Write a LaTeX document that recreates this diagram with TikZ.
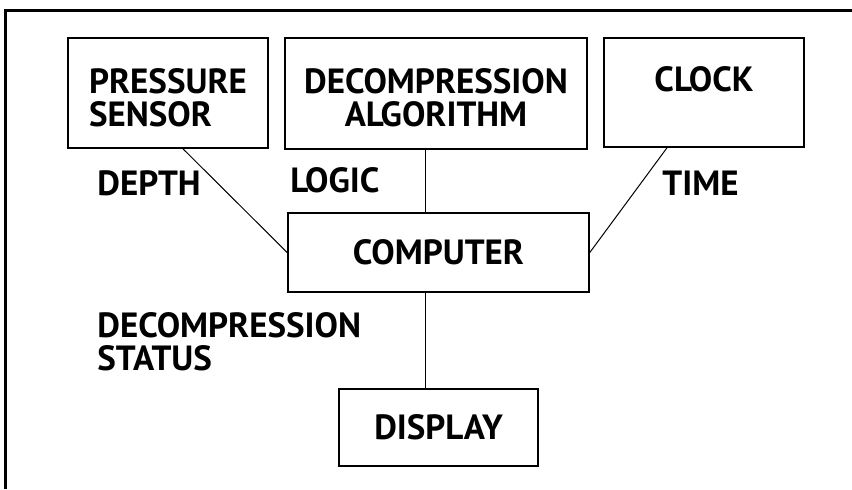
\documentclass[tikz,border=0pt]{standalone}
\usepackage{fontspec}
\setmainfont{PT Sans}
\usetikzlibrary{positioning}

\begin{document}
\begin{tikzpicture}[x=0.5pt, y=-0.5pt,
    every node/.style={font=\fontsize{17.5}{16.5}\selectfont\bfseries},
    box/.style={draw, line width=0.8pt, inner sep=0pt},
    toptext/.style={text height=33pt, text depth=0pt},
    tag/.style={inner sep=0pt, anchor=west}]
    \useasboundingbox (0, 0) rectangle (852, 489);
    \draw [line width=1.5pt] (5, 489) -- (5, 10) -- (852, 10);

    \node [box, toptext, align=left, minimum width=100pt, minimum height=55pt] (sensor) at (168, 93) {PRESSURE\\SENSOR};
    \node [box, toptext, align=center, minimum width=151pt, minimum height=55.5pt] (algo) at (436, 93.5) {DECOMPRESSION\\ALGORITHM};
    \node [box, text height=12pt, text depth=13pt, minimum width=100pt, minimum height=54.5pt] (clock) at (704, 92.5) {CLOCK};
    \node [box, minimum width=150.5pt, minimum height=39.5pt] (computer) at (438.5, 252.5) {COMPUTER};
    \node [box, minimum width=99.5pt, minimum height=38.5pt] (display) at (438.5, 427.5) {DISPLAY};

    \node [tag] (depth) at (97, 183) {DEPTH};
    \node [tag] (logic) at (290, 180) {LOGIC};
    \node [tag] (time) at (662, 183) {TIME};
    \node [tag, anchor=north west, align=left] (status) at (97, 312) {DECOMPRESSION\\STATUS};

    \coordinate (stem) at (425, 0);
    \draw [line width=0.5pt] ([xshift=7.5pt]sensor.south) -- (computer.west);
    \draw [line width=0.5pt] ([xshift=-18.5pt]clock.south) -- (computer.east);
    \draw [line width=0.5pt] (algo.south -| stem) -- (computer.north -| stem);
    \draw [line width=0.5pt] (computer.south -| stem) -- (display.north -| stem);
\end{tikzpicture}
\end{document}
